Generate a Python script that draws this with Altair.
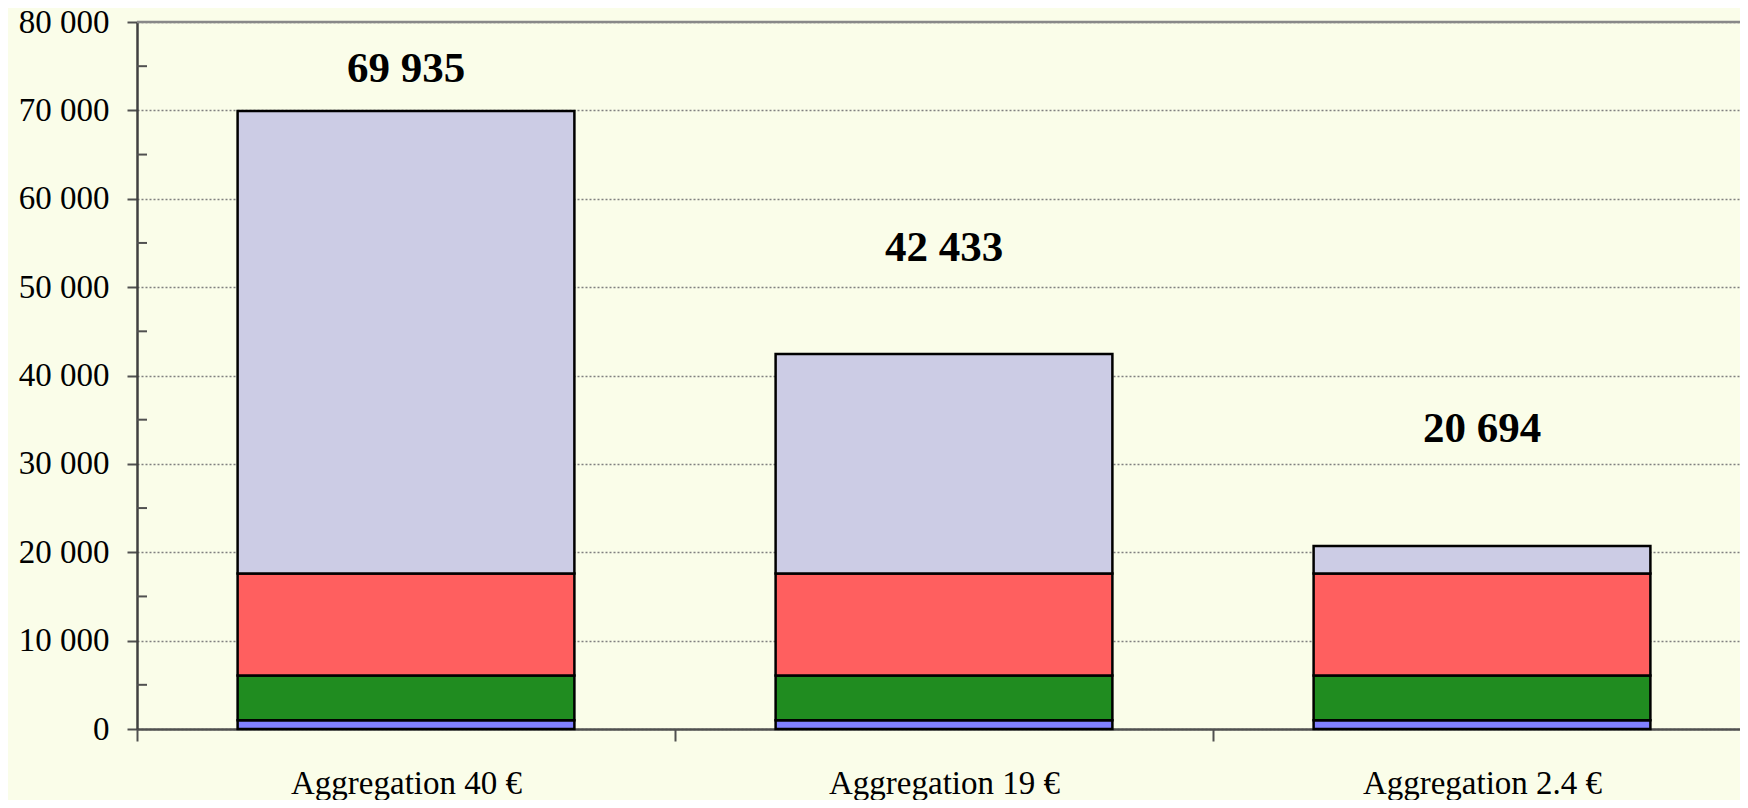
import altair as alt
import pandas as pd

categories = ["Aggregation 40 €", "Aggregation 19 €", "Aggregation 2.4 €"]
series = ["s1", "s2", "s3", "s4"]
s1 = [1000, 1000, 1000]
s2 = [5050, 5050, 5050]
s3 = [11550, 11550, 11550]
s4 = [52335, 24833, 3094]
totals = [69935, 42433, 20694]
label_pos = [74700, 54400, 33900]
colors = ["#8080FF", "#208C20", "#FF5F5F", "#CCCCE5"]
y_ticks = [0, 10000, 20000, 30000, 40000, 50000, 60000, 70000, 80000]
minor_ticks = [5000, 15000, 25000, 35000, 45000, 55000, 65000, 75000]

rows = []
for k, (name, vals) in enumerate(zip(series, [s1, s2, s3, s4])):
    for c, v in zip(categories, vals):
        rows.append({"cat": c, "series": name, "k": k, "value": v})
df = pd.DataFrame(rows)

lab_df = pd.DataFrame({
    "cat": categories,
    "pos": label_pos,
    "label": [f"{t:,}".replace(",", " ") for t in totals],
})
minor_df = pd.DataFrame({"v": minor_ticks})
top_df = pd.DataFrame({"v": [80000]})

FONT = "Liberation Serif"

xscale = alt.Scale(domain=categories, paddingInner=0, paddingOuter=0, range=[0, 1614])
yscale = alt.Scale(domain=[0, 80000], nice=False)

bars = alt.Chart(df).mark_bar(
    stroke="black", strokeWidth=2.5, width=alt.RelativeBandSize(0.626)
).encode(
    x=alt.X("cat:N", sort=categories, scale=xscale, title=None,
            axis=alt.Axis(labelAngle=0, labelFont=FONT, labelFontSize=33,
                          labelColor="black", labelPadding=26, tickBand="extent",
                          tickSize=12, tickColor="#505050", tickWidth=2,
                          domainColor="#505050", domainWidth=2.5, grid=False,
                          labelBaseline="top", labelLimit=0)),
    y=alt.Y("value:Q", stack="zero", scale=yscale, title=None,
            axis=alt.Axis(values=y_ticks, labelFont=FONT, labelFontSize=33,
                          labelColor="black", labelPadding=18, tickSize=10,
                          tickColor="#505050", tickWidth=2, domainColor="#404040",
                          domainWidth=2.5, grid=True, gridColor="#808080",
                          gridDash=[2, 2], gridWidth=1.5, labelLimit=0,
                          labelExpr="replace(format(datum.value, ','), ',', ' ')")),
    color=alt.Color("series:N", scale=alt.Scale(domain=series, range=colors), legend=None),
    order=alt.Order("k:Q", sort="ascending"),
)

labels = alt.Chart(lab_df).mark_text(
    font=FONT, fontSize=43, fontWeight="bold", color="black", baseline="middle"
).encode(
    x=alt.X("cat:N", sort=categories, scale=xscale),
    y=alt.Y("pos:Q", scale=yscale),
    text="label:N",
)

minor = alt.Chart(minor_df).mark_rule(color="#505050", strokeWidth=2).encode(
    y=alt.Y("v:Q", scale=yscale),
    x=alt.value(0),
    x2=alt.value(10),
)

top = alt.Chart(top_df).mark_rule(color="#888888", strokeWidth=2.5).encode(
    y=alt.Y("v:Q", scale=yscale),
)

chart = alt.layer(top, bars, labels, minor).properties(
    width=1603,
    height=707,
    background="#FAFDE9",
    autosize=alt.AutoSizeParams(type="none"),
    padding={"left": 129, "top": 14, "right": 0, "bottom": 71},
).configure_view(stroke=None)

chart.save("out.html", embed_options={"renderer": "svg", "actions": False})
